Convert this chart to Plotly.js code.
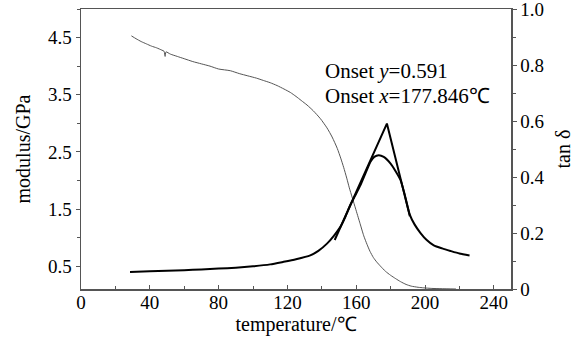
<!DOCTYPE html>
<html>
<head>
<meta charset="utf-8">
<script src="https://cdn.plot.ly/plotly-3.0.1.min.js"></script>
<style>html,body{margin:0;padding:0;background:#fff;}#chart{width:583px;height:337px;}</style>
</head>
<body>
<div id="chart"></div>
<script>
// Storage modulus (GPa, left axis)
const modT = [29.3, 32, 35, 38, 41, 44, 47, 48.3, 48.9, 49.4, 52, 56, 60, 65, 70, 75, 80, 86.8, 92, 97, 102, 106, 110, 114, 118, 121.7, 125, 128, 131.4, 135, 139.2, 143, 146, 149, 151, 152.7, 154.5, 156, 157.6, 159, 160.5, 162, 164.4, 166.3, 168, 170, 172, 174.1, 177, 180, 183, 185.7, 189, 192, 196, 199.3, 204, 210, 218];
const modV = [4.53, 4.48, 4.43, 4.39, 4.35, 4.32, 4.28, 4.26, 4.17, 4.25, 4.21, 4.17, 4.13, 4.08, 4.04, 4.00, 3.95, 3.92, 3.87, 3.83, 3.79, 3.75, 3.71, 3.66, 3.60, 3.54, 3.47, 3.40, 3.32, 3.22, 3.08, 2.92, 2.76, 2.56, 2.39, 2.23, 2.04, 1.87, 1.71, 1.57, 1.42, 1.27, 1.03, 0.88, 0.76, 0.65, 0.57, 0.50, 0.41, 0.34, 0.28, 0.23, 0.18, 0.15, 0.13, 0.12, 0.11, 0.105, 0.10];
// tan delta (right axis)
const tanT = [28.5, 40, 50, 60, 70, 80, 90, 100, 110, 117.8, 125, 133.3, 138, 143, 147, 150.8, 153.5, 156.6, 159.5, 162.4, 165.5, 168.3, 170.5, 173.1, 176, 180, 183, 185.8, 188.5, 191.2, 194, 197.4, 201, 205.1, 210, 214.8, 220, 225.9];
const tanV = [0.061, 0.063, 0.065, 0.067, 0.070, 0.073, 0.076, 0.081, 0.088, 0.097, 0.106, 0.120, 0.136, 0.162, 0.190, 0.222, 0.255, 0.300, 0.335, 0.370, 0.415, 0.455, 0.472, 0.478, 0.472, 0.448, 0.420, 0.389, 0.330, 0.265, 0.230, 0.200, 0.175, 0.156, 0.145, 0.136, 0.127, 0.120];
// onset tangent construction
const onsetT = [147.5, 177.846, 191.2];
const onsetV = [0.175, 0.591, 0.26];
// tick labels
const xTicks = [0, 40, 80, 120, 160, 200, 240];
const yTicks = [0.5, 1.5, 2.5, 3.5, 4.5];
const yTickText = ["0.5", "1.5", "2.5", "3.5", "4.5"];
const y2Ticks = [0, 0.2, 0.4, 0.6, 0.8, 1.0];
const y2TickText = ["0", "0.2", "0.4", "0.6", "0.8", "1.0"];

const FONT = "'Liberation Serif', 'Times New Roman', serif";
const AX = '#555';

const traces = [
  {x: modT, y: modV, type: 'scatter', mode: 'lines', line: {color: '#555', width: 1, shape: 'spline', smoothing: 0.6}, yaxis: 'y', hoverinfo: 'skip'},
  {x: tanT, y: tanV, type: 'scatter', mode: 'lines', line: {color: '#000', width: 2, shape: 'spline', smoothing: 0.6}, yaxis: 'y2', hoverinfo: 'skip'},
  {x: onsetT, y: onsetV, type: 'scatter', mode: 'lines', line: {color: '#000', width: 2}, yaxis: 'y2', hoverinfo: 'skip'}
];

const layout = {
  width: 583, height: 337,
  margin: {l: 81, r: 72, t: 9, b: 48},
  paper_bgcolor: '#fff', plot_bgcolor: '#fff',
  showlegend: false,
  font: {family: FONT, color: '#000', size: 19},
  xaxis: {
    range: [0, 250], tickvals: xTicks, ticks: 'inside', ticklen: 4, tickcolor: AX, tickwidth: 1,
    minor: {dtick: 20, tick0: 0, ticks: 'inside', ticklen: 3, tickcolor: AX},
    showline: true, linecolor: AX, linewidth: 1.5, mirror: true,
    showgrid: false, zeroline: false,
    ticklabelstandoff: -4,
    tickfont: {size: 19, family: FONT},
    title: {text: 'temperature/℃', font: {size: 20, family: FONT}, standoff: 0}
  },
  yaxis: {
    range: [0.1, 5.0], tickvals: yTicks, ticktext: yTickText, ticks: 'outside', ticklen: 4, tickcolor: AX,
    minor: {dtick: 0.5, tick0: 0, ticks: 'outside', ticklen: 3, tickcolor: AX},
    showline: true, linecolor: AX, linewidth: 1.5,
    showgrid: false, zeroline: false,
    ticklabeloverflow: 'allow',
    tickfont: {size: 19, family: FONT},
    title: {text: 'modulus/GPa', font: {size: 20, family: FONT}, standoff: 12}
  },
  yaxis2: {
    overlaying: 'y', side: 'right', anchor: 'x',
    range: [0, 1.0005], tickvals: y2Ticks, ticktext: y2TickText, ticks: 'outside', ticklen: 4, tickcolor: AX,
    minor: {dtick: 0.1, tick0: 0, ticks: 'outside', ticklen: 3, tickcolor: AX},
    showline: true, linecolor: AX, linewidth: 1.5,
    showgrid: false, zeroline: false,
    ticklabeloverflow: 'allow',
    tickfont: {size: 19, family: FONT},
    title: {text: 'tan δ', font: {size: 20, family: FONT}, standoff: 12}
  },
  annotations: [
    {x: 140.7, y: 0.778, xref: 'x', yref: 'y2', xanchor: 'left', yanchor: 'middle', showarrow: false,
     text: 'Onset <i>y</i>=0.591', font: {size: 21, family: FONT, color: '#000'}},
    {x: 140.7, y: 0.69, xref: 'x', yref: 'y2', xanchor: 'left', yanchor: 'middle', showarrow: false,
     text: 'Onset <i>x</i>=177.846℃', font: {size: 21, family: FONT, color: '#000'}}
  ]
};

Plotly.newPlot('chart', traces, layout, {displayModeBar: false, staticPlot: true});
</script>
</body>
</html>
